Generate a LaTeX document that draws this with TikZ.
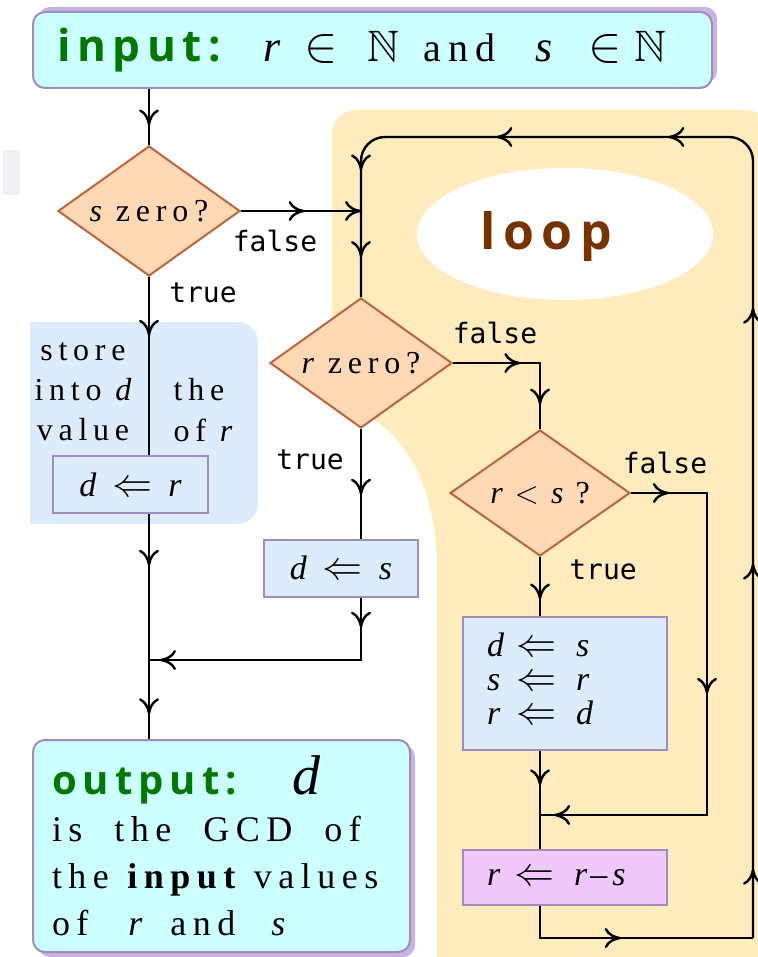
\RequirePackage{fix-cm}
\documentclass[tikz,border=0pt]{standalone}
\usepackage{amssymb}
\usepackage{fontspec}
\setmainfont{Liberation Serif}
\newfontfamily\labelfont{DejaVu Sans Mono}
\newfontfamily\headfont[LetterSpace=15]{Open Sans}
\newfontfamily\spacedfont[LetterSpace=18]{Liberation Serif}
\newcommand{\var}[1]{\mbox{\normalfont\itshape #1}}
\newcommand{\assignto}{{\fontsize{20}{20}\selectfont$\Leftarrow$}}
\newcommand{\memberof}{{\fontsize{25}{26}\selectfont$\in$}}
\usetikzlibrary{shapes.geometric,arrows.meta,decorations.markings,shadows}
\definecolor{boxcyan}{RGB}{204,255,255}
\definecolor{boxedge}{RGB}{160,140,190}
\definecolor{boxshade}{RGB}{200,180,225}
\definecolor{testfill}{RGB}{255,217,182}
\definecolor{testedge}{RGB}{190,100,60}
\definecolor{stepblue}{RGB}{220,236,252}
\definecolor{steplilac}{RGB}{240,200,252}
\definecolor{loopyellow}{RGB}{255,236,190}
\definecolor{notegray}{RGB}{240,241,245}
\definecolor{headgreen}{RGB}{0,120,0}
\definecolor{loopbrown}{RGB}{120,50,0}
\begin{document}
\begin{tikzpicture}[x=0.5pt,y=-0.5pt,
  flow/.style={line width=1.2pt},
  midtip/.style={postaction={decorate,decoration={markings,mark=at position #1 with {\arrow{To[length=8pt,width=10pt]}}}}},
  test/.style={diamond,aspect=1.4,draw=testedge,fill=testfill,line width=1pt,inner sep=0pt,minimum width=91pt,minimum height=65pt,font=\spacedfont\fontsize{16}{19}\selectfont},
  stepbox/.style={draw=boxedge,fill=stepblue,line width=1pt,inner sep=0pt,font=\fontsize{17}{20}\selectfont},
  io/.style={draw=boxedge,fill=boxcyan,line width=1pt,rounded corners=6pt},
  lbl/.style={font=\labelfont\fontsize{14}{16}\selectfont},
  note/.style={font=\spacedfont\fontsize{16}{19}\selectfont}]
\useasboundingbox (0,0) rectangle (758,957);
\fill[notegray] (3,150) rectangle (20,195);
\fill[loopyellow] (437,957) -- (437,570) .. controls (437,480) and (400,425) .. (350,408) .. controls (336,402) and (332,395) .. (332,380) [rounded corners=12pt] -- (332,110) -- (770,110) [sharp corners] -- (770,957) -- cycle;
\fill[stepblue,rounded corners=10pt] (30,322) rectangle (258,524);
\fill[stepblue] (30,322) rectangle (60,524);
\node[ellipse,fill=white,minimum width=148pt,minimum height=66pt] (loopbg) at (565,234) {};
\node[font=\headfont\bfseries\fontsize{25}{28}\selectfont,text=loopbrown] (looplbl) at (546,237) {loop};

\node[io,general shadow={fill=boxshade,shadow xshift=2.5pt,shadow yshift=2.5pt},minimum width=339.5pt,minimum height=38pt,inner xsep=12pt,text width=315pt,align=left,font=\fontsize{22}{26}\selectfont] (input) at (372.5,50)
  {{\color{headgreen}\headfont\bfseries input:}\hspace{21pt}\var{r}\hspace{12pt}\memberof\hspace{15pt}$\mathbb{N}$\hspace{12pt}{\spacedfont\fontsize{20}{24}\selectfont and}\hspace{20pt}\var{s}\hspace{18pt}\memberof\hspace{6pt}$\mathbb{N}$};
\node[test] (szero) at (149,211) {\var{s} zero?};
\node[stepbox,minimum width=77.5pt,minimum height=28.5pt] (dr) at (130.5,484.5) {\var{d}\hspace{8pt}\assignto\hspace{8pt}\var{r}};
\node[test] (rzero) at (361,363) {\var{r} zero?};
\node[stepbox,minimum width=77pt,minimum height=28.5pt] (ds) at (341,568) {\var{d}\hspace{8pt}\assignto\hspace{8pt}\var{s}};
\node[test,minimum width=90pt,minimum height=63pt] (rls) at (540,493) {\var{r}\hspace{6pt}$<$\hspace{6pt}\var{s}\hspace{6pt}?};
\node[stepbox,minimum width=102pt,minimum height=66.5pt,inner xsep=12pt,text width=78pt,align=left] (swap) at (565,683.5)
  {\renewcommand{\arraystretch}{0.85}$\begin{array}{@{}l@{\hspace{6pt}}c@{\hspace{10pt}}l} \var{d} & \mbox{\assignto} & \var{s}\\ \var{s} & \mbox{\assignto} & \var{r}\\ \var{r} & \mbox{\assignto} & \var{d}\end{array}$};
\node[stepbox,fill=steplilac,minimum width=102pt,minimum height=27.5pt,inner xsep=12pt,text width=78pt,align=left] (rrs) at (565,877.5) {\var{r}\hspace{7pt}\assignto\hspace{10pt}\var{r}\kern1.5pt--\kern2.5pt\var{s}};
\node[io,general shadow={fill=boxshade,shadow xshift=2.5pt,shadow yshift=-2.5pt},minimum width=188.5pt,minimum height=106pt,inner xsep=9.5pt,text width=169.5pt,align=left,font=\spacedfont\fontsize{18}{23.5}\selectfont] (output) at (221.5,846)
  {{\color{headgreen}\headfont\bfseries\fontsize{20}{23.5}\selectfont output:}\hspace{28pt}{\fontsize{28}{23.5}\selectfont\var{d}}\\
   is\hspace{16pt}the\hspace{16pt}GCD\hspace{16pt}of\\
   the \textbf{input} values\\
   of\hspace{20pt}\var{r}\hspace{14pt}and\hspace{18pt}\var{s}};

\node[note] (store) at (83,352) {store};
\node[note] (into) at (83,390) {into \var{d}};
\node[note] (value) at (83,430) {value};
\node[note] (the) at (199,390) {the};
\node[note] (ofr) at (203,430) {of \var{r}};

\coordinate (jin) at (361,211);
\coordinate (jleft) at (149,660);
\coordinate (jfalse) at (707,815);
\coordinate (jmerge) at (540,815);
\coordinate (cbr) at (753,938);
\coordinate (ctr) at (753,137);
\coordinate (ctl) at (361,137);

\draw[flow,midtip=0.65] (input.south -| szero.north) -- (szero.north);
\draw[flow,midtip=0.53,midtip=1] (szero.east) -- (jin);
\draw[flow,midtip=0.33] (szero.south) -- (dr.north -| szero.south);
\draw[flow,midtip=0.23,midtip=0.89] (dr.south -| szero.south) -- (output.north -| szero.south);
\draw[flow,midtip=0.6] (rzero.south) -- (ds.north -| rzero.south);
\draw[flow,midtip=0.11,midtip=0.96] (ds.south -| rzero.south) |- (jleft);
\draw[flow,midtip=0.44,midtip=0.84] (rzero.east) -| (rls.north);
\draw[flow,midtip=0.72] (rls.south) -- (swap.north -| rls.south);
\draw[flow,midtip=0.067,midtip=0.49,midtip=0.975] (rls.east) -| (jfalse) -- (jmerge);
\draw[flow,midtip=0.35] (swap.south -| rls.south) -- (rrs.north -| rls.south);
\draw[flow,midtip=0.46] (rrs.south -| rls.south) |- (cbr);
\draw[flow,rounded corners=12pt,midtip=0.052,midtip=0.281,midtip=0.473,midtip=0.657,midtip=0.786,midtip=0.905,midtip=0.97] (cbr) -- (ctr) -- (ctl) -- (rzero.north);

\node[lbl] (f1) at (275,241) {false};
\node[lbl] (t1) at (203,293) {true};
\node[lbl] (f2) at (495,333) {false};
\node[lbl] (t2) at (310,460) {true};
\node[lbl] (f3) at (665,463) {false};
\node[lbl] (t3) at (603,570) {true};
\end{tikzpicture}
\end{document}
